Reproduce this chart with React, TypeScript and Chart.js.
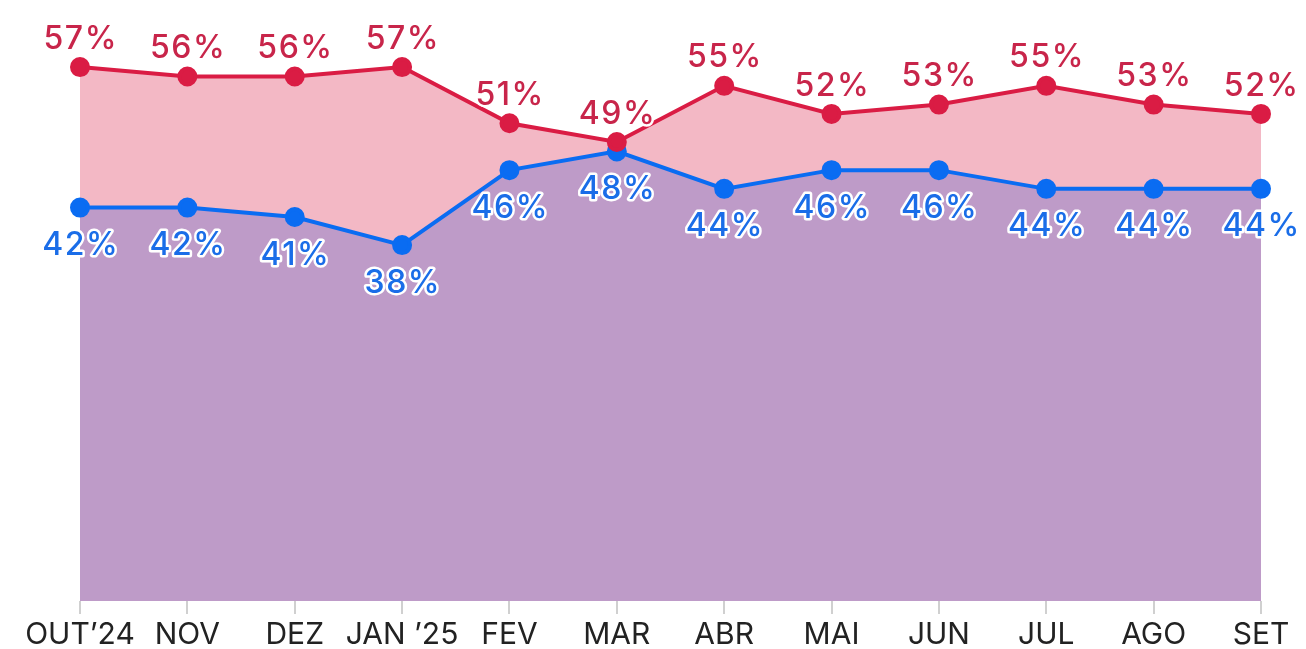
import React, { useEffect, useRef } from "react";
import { Chart, registerables } from "chart.js";

Chart.register(...registerables);

const categories = ["OUT’24", "NOV", "DEZ", "JAN ’25", "FEV", "MAR", "ABR", "MAI", "JUN", "JUL", "AGO", "SET"];
const redValues = [57, 56, 56, 57, 51, 49, 55, 52, 53, 55, 53, 52];
const blueValues = [42, 42, 41, 38, 46, 48, 44, 46, 46, 44, 44, 44];

const RED = "#DA1C44";
const RED_TEXT = "#C8254A";
const BLUE = "#0A6CF2";
const BLUE_TEXT = "#1A6DE8";
const PINK = "#F3B8C5";
const PURPLE = "#BE9BC8";

const labelPlugin = {
  id: "valueLabels",
  afterDatasetsDraw(chart: any) {
    const ctx = chart.ctx;
    ctx.save();
    ctx.font = "500 32px Inter, 'Open Sans', sans-serif";
    try { (ctx as any).letterSpacing = "1.5px"; } catch (e) {}
    ctx.textAlign = "center";
    ctx.textBaseline = "middle";
    ctx.lineJoin = "round";
    chart.data.datasets.forEach((ds: any, di: number) => {
      const meta = chart.getDatasetMeta(di);
      const isRed = di === 0;
      meta.data.forEach((pt: any, i: number) => {
        const txt = ds.data[i] + "%";
        const y = isRed ? pt.y - 28 : pt.y + 38;
        const x = pt.x + 0.75;
        ctx.lineWidth = 5;
        ctx.strokeStyle = "#ffffff";
        ctx.strokeText(txt, x, y);
        ctx.fillStyle = isRed ? RED_TEXT : BLUE_TEXT;
        ctx.fillText(txt, x, y);
      });
    });
    ctx.restore();
  },
};

export default function App() {
  const ref = useRef<HTMLCanvasElement>(null);
  useEffect(() => {
    if (!ref.current) return;
    const chart = new Chart(ref.current, {
      type: "line",
      data: {
        labels: categories,
        datasets: [
          {
            data: redValues,
            borderColor: RED,
            backgroundColor: PINK,
            pointBackgroundColor: RED,
            pointBorderColor: RED,
            pointRadius: 8,
            borderWidth: 4,
            fill: "+1",
            tension: 0,
          },
          {
            data: blueValues,
            borderColor: BLUE,
            backgroundColor: PURPLE,
            pointBackgroundColor: BLUE,
            pointBorderColor: BLUE,
            pointRadius: 8,
            borderWidth: 4,
            fill: "origin",
            tension: 0,
          },
        ],
      },
      options: {
        responsive: false,
        animation: false,
        layout: { padding: { left: 80, right: 45, top: 39, bottom: -7 } },
        plugins: {
          legend: { display: false },
          tooltip: { enabled: false },
          filler: { drawTime: "beforeDatasetsDraw" },
        },
        scales: {
          y: { display: false, min: 0, max: 60 },
          x: {
            offset: false,
            border: { display: false },
            grid: {
              drawOnChartArea: false,
              drawTicks: true,
              tickLength: 13,
              color: "#d0d0d0",
              lineWidth: 2,
            },
            ticks: {
              color: "#222222",
              font: { size: 30, family: "Inter, 'Open Sans', sans-serif", lineHeight: 1 },
              padding: 6,
              maxRotation: 0,
              autoSkip: false,
            },
          },
        },
      },
      plugins: [labelPlugin],
    });
    return () => chart.destroy();
  }, []);
  return (
    <div style={{ position: "fixed", left: 0, top: 0, width: 1306, height: 649, background: "#fff" }}>
      <canvas ref={ref} width={1306} height={649} style={{ display: "block" }} />
    </div>
  );
}
